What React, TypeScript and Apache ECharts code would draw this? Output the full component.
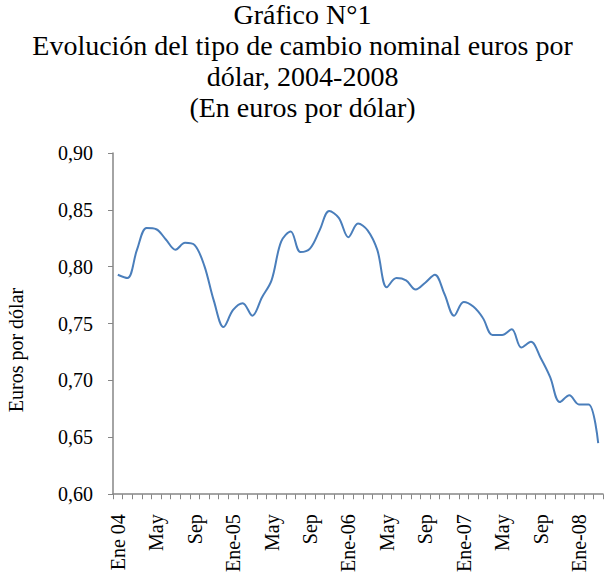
import React, { useEffect, useRef } from "react";
import * as echarts from "echarts";

const FONT = "Liberation Serif";

const monthLabels = [
  "Ene 04", "Feb", "Mar", "Abr", "May", "Jun", "Jul", "Ago", "Sep", "Oct", "Nov", "Dic",
  "Ene-05", "Feb", "Mar", "Abr", "May", "Jun", "Jul", "Ago", "Sep", "Oct", "Nov", "Dic",
  "Ene-06", "Feb", "Mar", "Abr", "May", "Jun", "Jul", "Ago", "Sep", "Oct", "Nov", "Dic",
  "Ene-07", "Feb", "Mar", "Abr", "May", "Jun", "Jul", "Ago", "Sep", "Oct", "Nov", "Dic",
  "Ene-08", "Feb", "Mar",
];

const eurosPorDolar = [
  0.793, 0.790, 0.815, 0.834, 0.833, 0.824, 0.815, 0.821, 0.819, 0.801, 0.770, 0.747,
  0.762, 0.768, 0.757, 0.773, 0.788, 0.822, 0.831, 0.813, 0.816, 0.832, 0.849, 0.843,
  0.826, 0.838, 0.832, 0.815, 0.782, 0.790, 0.788, 0.780, 0.786, 0.793, 0.776, 0.757,
  0.769, 0.765, 0.755, 0.740, 0.740, 0.745, 0.729, 0.734, 0.720, 0.703, 0.681, 0.687,
  0.679, 0.679, 0.645,
];

const titleLines = [
  "Gráfico N°1",
  "Evolución del tipo de cambio nominal euros por",
  "dólar, 2004-2008",
  "(En euros por dólar)",
];

const yAxisName = "Euros por dólar";

export default function App() {
  const ref = useRef<HTMLDivElement>(null);
  useEffect(() => {
    if (!ref.current) return;
    const chart = echarts.init(ref.current, null, { renderer: "svg" });
    chart.setOption({
      animation: false,
      backgroundColor: "#ffffff",
      title: {
        text: titleLines.join("\n"),
        left: "center",
        top: -1,
        padding: 0,
        textStyle: {
          fontFamily: FONT,
          fontSize: 28,
          lineHeight: 31,
          fontWeight: "normal",
          color: "#000000",
        },
      },
      graphic: [
        {
          type: "text",
          x: 16,
          y: 350,
          rotation: Math.PI / 2,
          style: {
            text: yAxisName,
            fontFamily: FONT,
            fontSize: 20,
            fill: "#000000",
            textAlign: "center",
            textVerticalAlign: "middle",
          },
        },
      ],
      grid: { left: 113, right: 2, top: 153, bottom: 79, containLabel: false },
      xAxis: {
        type: "category",
        data: monthLabels,
        boundaryGap: true,
        axisLine: { show: true, lineStyle: { color: "#868686", width: 1.5 } },
        axisTick: { show: true, interval: 0, length: 5, lineStyle: { color: "#868686", width: 1 } },
        axisLabel: {
          interval: 3,
          rotate: 90,
          margin: 20,
          fontFamily: FONT,
          fontSize: 20,
          color: "#000000",
        },
        splitLine: { show: false },
      },
      yAxis: {
        type: "value",
        min: 0.6,
        max: 0.9,
        interval: 0.05,
        axisLine: { show: true, lineStyle: { color: "#868686", width: 1.5 } },
        axisTick: { show: true, length: 5, lineStyle: { color: "#868686", width: 1 } },
        axisLabel: {
          margin: 20,
          fontFamily: FONT,
          fontSize: 20,
          color: "#000000",
          formatter: (v: number) => v.toFixed(2).replace(".", ","),
        },
        splitLine: { show: false },
      },
      series: [
        {
          type: "line",
          data: eurosPorDolar,
          smooth: 0.35,
          symbol: "none",
          lineStyle: { color: "#4a7ebb", width: 2 },
        },
      ],
    });
    return () => chart.dispose();
  }, []);
  return (
    <div
      ref={ref}
      style={{ position: "absolute", left: 0, top: 0, width: 605, height: 575 }}
    />
  );
}
